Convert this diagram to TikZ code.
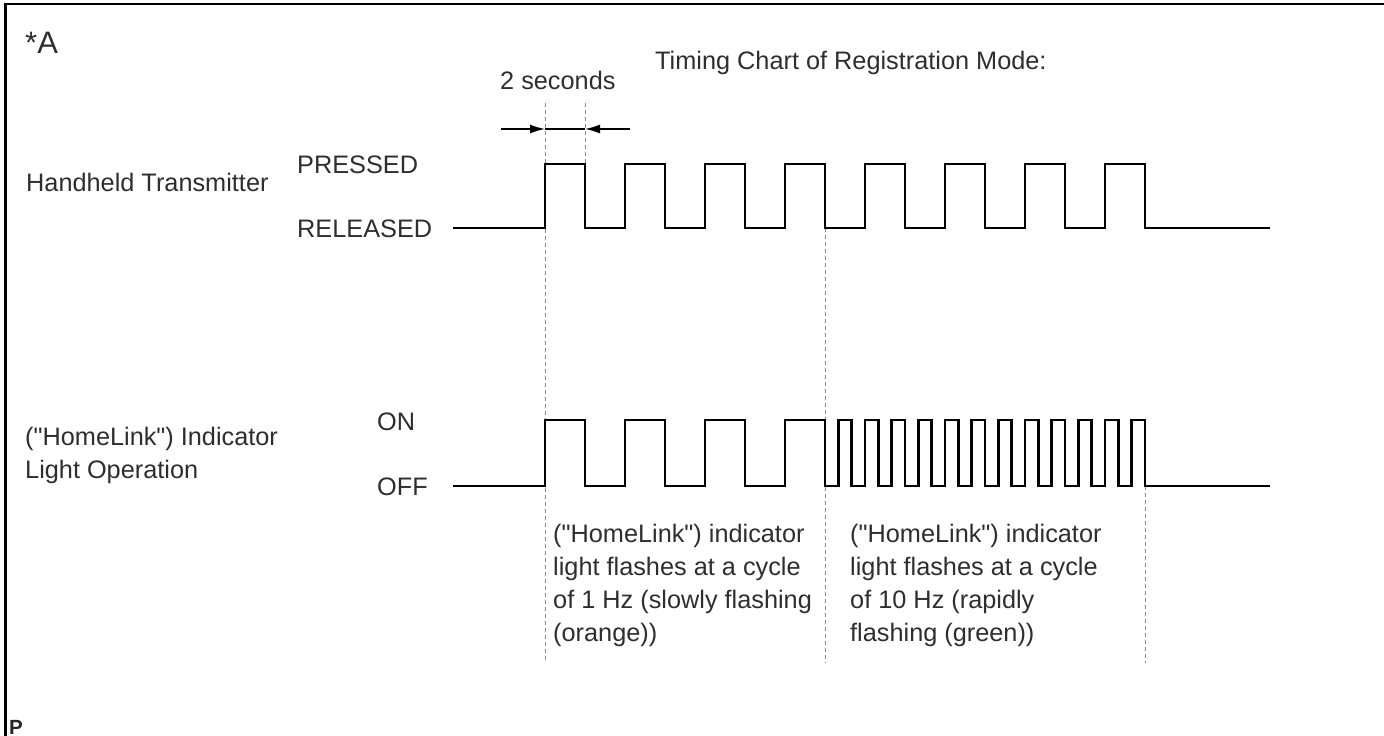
\documentclass[tikz,border=0pt]{standalone}
\usepackage{fontspec}
\setmainfont{Liberation Sans}[Ligatures=TeXOff]
\usetikzlibrary{arrows.meta}
\definecolor{txt}{HTML}{2E2E2E}
\begin{document}
\begin{tikzpicture}[x=1pt,y=-1pt,
  lbl/.style={anchor=base west, inner sep=0pt, font=\fontsize{25.3}{33}\selectfont, text=txt},
  wave/.style={line width=2.8pt, line join=miter},
  guide/.style={black!45, line width=1pt, dash pattern=on 4pt off 3pt},
  dimarrow/.style={line width=1.5pt, -{Latex[length=15pt,width=9pt]}}]
\useasboundingbox (0,0) rectangle (1384,736);
% frame
\draw[line width=2.5pt] (5.5,736) -- (5.5,4) -- (1384,4);
% labels
\node[lbl, font=\fontsize{31}{36}\selectfont] (star) at (25,53) {*A};
\node[lbl] (title) at (655,69) {Timing Chart of Registration Mode:};
\node[lbl] (twosec) at (500,89) {2 seconds};
\node[lbl] (hh) at (26,191) {Handheld Transmitter};
\node[lbl] (pressed) at (297,173) {PRESSED};
\node[lbl] (released) at (297,237) {RELEASED};
\node[lbl, align=left, anchor=north west] (ind) at (25,427) {("HomeLink") Indicator\\Light Operation};
\node[lbl] (on) at (377,430) {ON};
\node[lbl] (off) at (377,495) {OFF};
\node[lbl, align=left, anchor=north west] (slow) at (553,524) {("HomeLink") indicator\\light flashes at a cycle\\of 1 Hz (slowly flashing\\(orange))};
\node[lbl, align=left, anchor=north west] (fast) at (850,524) {("HomeLink") indicator\\light flashes at a cycle\\of 10 Hz (rapidly\\flashing (green))};
\node[anchor=base west, inner sep=0pt, font=\fontsize{20.5}{24}\selectfont\bfseries, text=black!85] (p) at (9,734) {P};
% guides
\draw[guide] (545,103) -- (545,663);
\draw[guide] (585,103) -- (585,164);
\draw[guide] (825,228) -- (825,663);
\draw[guide] (1145,486) -- (1145,663);
% dimension arrows
\coordinate (a1) at (501,129);
\coordinate (a2) at (545,129);
\coordinate (a3) at (585,129);
\coordinate (a4) at (630,129);
\draw[line width=1.5pt] (a2) -- (a3);
\draw[dimarrow] (a1) -- (a2);
\draw[dimarrow] (a4) -- (a3);
% handheld waveform
\draw[wave] (453,228) foreach \i in {0,...,7} { -- (545+80*\i,228) -- (545+80*\i,164) -- (585+80*\i,164) -- (585+80*\i,228) } -- (1270,228);
% indicator waveform
\draw[wave] (453,486) foreach \i in {0,...,3} { -- (545+80*\i,486) -- (545+80*\i,420) -- (585+80*\i,420) -- (585+80*\i,486) }
  foreach \j in {0,...,11} { -- (825+40/3+80/3*\j,486) -- (825+40/3+80/3*\j,420) -- (825+80/3+80/3*\j,420) -- (825+80/3+80/3*\j,486) } -- (1270,486);
\end{tikzpicture}
\end{document}
